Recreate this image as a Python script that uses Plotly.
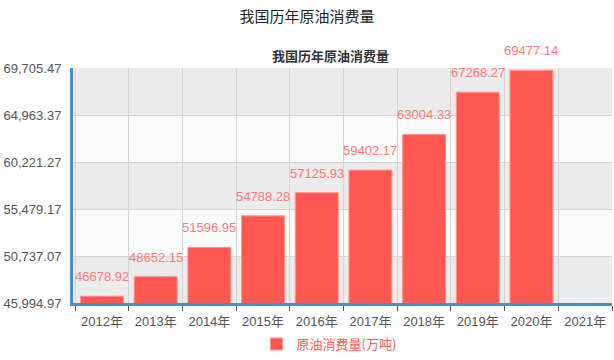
import plotly.graph_objects as go

years = ["2012年", "2013年", "2014年", "2015年", "2016年", "2017年", "2018年", "2019年", "2020年", "2021年"]
consumption = [46678.92, 48652.15, 51596.95, 54788.28, 57125.93, 59402.17, 63004.33, 67268.27, 69477.14, None]
tick_vals = [45994.97, 50737.07, 55479.17, 60221.27, 64963.37, 69705.47]
tick_text = ["45,994.97", "50,737.07", "55,479.17", "60,221.27", "64,963.37", "69,705.47"]
series_name = "原油消费量(万吨)"
main_title = "我国历年原油消费量"

fig = go.Figure()
fig.add_trace(go.Bar(
    x=years, y=consumption, name=series_name,
    marker=dict(color="#ff5853", line=dict(color="#ff9490", width=1)),
    cliponaxis=False, showlegend=True,
))

shapes = []
for i in range(len(tick_vals) - 1):
    shapes.append(dict(type="rect", xref="paper", yref="y", x0=0, x1=1,
                       y0=tick_vals[i], y1=tick_vals[i + 1],
                       fillcolor="#ececec" if i % 2 == 0 else "#fbfbfb",
                       line=dict(width=0), layer="below"))

annotations = [dict(text="<b>" + main_title + "</b>", xref="paper", yref="paper",
                    x=(330 - 73) / 539, y=1.055, xanchor="center", yanchor="middle",
                    showarrow=False, font=dict(size=13, color="#333", family="Noto Sans CJK SC"))]
for yr, v in zip(years, consumption):
    if v is None:
        continue
    annotations.append(dict(x=yr, y=v, xref="x", yref="y", text=f"{v:.2f}",
                            showarrow=False, xanchor="center", yanchor="bottom", yshift=10,
                            font=dict(color="#ff7a75", size=13, family="Liberation Sans, Arial")))

fig.update_layout(
    width=614, height=360,
    margin=dict(l=73, r=2, t=68, b=56),
    paper_bgcolor="white", plot_bgcolor="white",
    font=dict(family="Liberation Sans, Arial, Noto Sans CJK SC", size=13, color="#555"),
    title=dict(text=main_title, x=0.5, xanchor="center", y=0.953, yanchor="middle",
               font=dict(family="Noto Sans CJK SC", size=15, color="#222")),
    shapes=shapes,
    bargap=0.2,
    xaxis=dict(type="category", tickson="boundaries", showgrid=True, gridcolor="#d4d4d4",
               gridwidth=1, showline=True, linecolor="#4a8ec8", linewidth=3,
               ticks="outside", ticklen=5, tickcolor="#555", automargin=False,
               ticklabelstandoff=4,
               tickfont=dict(size=13, color="#555", family="Liberation Sans, Noto Sans CJK SC")),
    yaxis=dict(range=[tick_vals[0], tick_vals[-1]], tickvals=tick_vals, ticktext=tick_text,
               showgrid=True, gridcolor="#d4d4d4", gridwidth=1, automargin=False,
               showline=True, linecolor="#4a8ec8", linewidth=3, zeroline=False,
               ticks="", ticklabelstandoff=6, tickfont=dict(size=13, color="#555")),
    legend=dict(orientation="h", x=0.475, xanchor="center", y=-55 / 236, yanchor="bottom",
                font=dict(color="#ff5a55", size=13, family="Noto Sans CJK SC")),
    annotations=annotations,
)

fig.write_html("out.html", post_script="document.body.style.margin='0';",
               config={"displayModeBar": False})
